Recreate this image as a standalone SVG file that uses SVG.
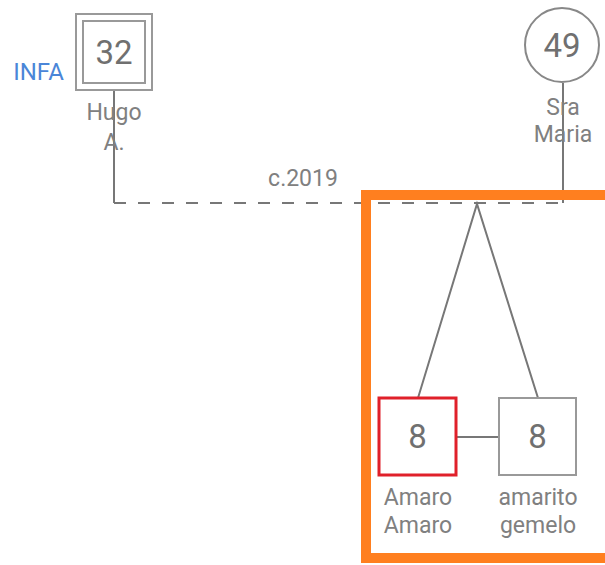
<svg xmlns="http://www.w3.org/2000/svg" width="605" height="565" viewBox="0 0 605 565">
<style>
.ln{stroke:#777;stroke-width:2;fill:none}
.dash{stroke:#777;stroke-width:2;fill:none;stroke-dasharray:12 12}
.lbl{font-family:Roboto,"Liberation Sans",sans-serif;font-size:23px;fill:#808080;text-anchor:middle}
.num{font-family:Roboto,"Liberation Sans",sans-serif;font-size:33px;fill:#707070;text-anchor:middle}
.box{fill:#fff;stroke:#999;stroke-width:2}
</style>
<rect width="605" height="565" fill="#fff"/>
<g id="connectors">
<line class="ln" x1="114" y1="90" x2="114" y2="203"/>
<line class="ln" x1="563" y1="83" x2="563" y2="203"/>
<line class="dash" x1="114" y1="203" x2="563" y2="203"/>
<polyline class="ln" points="418,398 477,204 538,398"/>
<line class="ln" x1="456" y1="437" x2="499" y2="437"/>
</g>
<g id="hugo">
<rect class="box" x="76" y="14" width="76" height="76"/>
<rect class="box" x="83" y="21" width="62" height="62"/>
<text class="num" x="114" y="64" font-size="34">32</text>
<text class="lbl" x="114" y="120">Hugo</text>
<text class="lbl" x="114" y="150">A.</text>
<text x="38.5" y="80" font-family="Roboto,'Liberation Sans',sans-serif" font-size="24" fill="#4a86d8" text-anchor="middle">INFA</text>
</g>
<g id="maria">
<circle cx="562" cy="45" r="37" fill="#fff" stroke="#888" stroke-width="2"/>
<text class="num" x="562" y="57">49</text>
<text class="lbl" x="563" y="115">Sra</text>
<text class="lbl" x="563" y="142">Maria</text>
</g>
<text class="lbl" x="303" y="186">c.2019</text>
<g id="group">
<rect x="366" y="195" width="250" height="363" fill="none" stroke="#ff7f1f" stroke-width="10"/>
</g>
<g id="amaro">
<rect x="379" y="398" width="77" height="77" fill="#fff" stroke="#e0202a" stroke-width="3"/>
<text class="num" x="417.5" y="448">8</text>
<text class="lbl" x="418" y="505">Amaro</text>
<text class="lbl" x="418" y="533">Amaro</text>
</g>
<g id="amarito">
<rect class="box" x="499" y="398" width="77" height="77"/>
<text class="num" x="537.5" y="448">8</text>
<text class="lbl" x="538" y="505">amarito</text>
<text class="lbl" x="538" y="533">gemelo</text>
</g>
</svg>
